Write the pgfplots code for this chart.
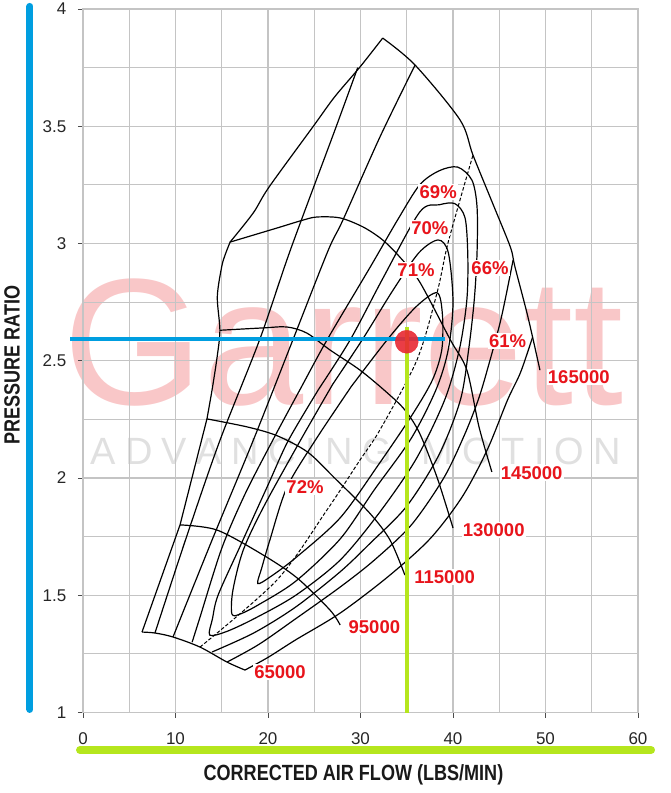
\documentclass[border=0pt]{standalone}
\usepackage{fontspec}
\setmainfont{Liberation Sans}
\newfontfamily\condfont[FakeStretch=0.82]{Liberation Sans}
\usepackage{pgfplots}
\pgfplotsset{compat=1.18}
\definecolor{gridgray}{RGB}{196,196,196}
\definecolor{barblue}{RGB}{0,158,224}
\definecolor{bargreen}{RGB}{181,230,29}
\definecolor{lblred}{RGB}{232,20,27}
\definecolor{wmpink}{RGB}{249,199,200}
\definecolor{wmgray}{RGB}{224,224,224}
\newcommand\ls{\hspace{9.5pt}}
\begin{document}
\begin{tikzpicture}
\path[use as bounding box] (-83pt,-80.5pt) rectangle (587pt,712.5pt);
\node[anchor=base west, inner sep=0, text=wmpink, font=\fontsize{180}{180}\selectfont] at (-19.6pt,307.5pt) {Garrett};
\node[anchor=base west, inner sep=0, text=wmgray, font=\fontsize{38}{38}\selectfont] at (7pt,247.5pt) {A\ls D\ls V\ls A\ls N\ls C\ls I\ls N\ls G\ls\ \ls M\ls O\ls T\ls I\ls O\ls N};
\begin{axis}[
  at={(0pt,0pt)}, anchor=south west,
  scale only axis, width=555pt, height=703.5pt,
  xmin=0, xmax=60, ymin=1, ymax=4,
  xtick={0,10,...,60}, ytick={1,1.5,...,4},
  minor xtick={5,15,...,55}, minor ytick={1.25,1.75,...,3.75},
  grid=both,
  grid style={gridgray, line width=1.1pt},
  minor grid style={gridgray, line width=1.1pt},
  axis line style={gridgray, line width=1.1pt},
  tick align=outside, major tick length=5pt, minor tick length=0pt,
  tick pos=left,
  major tick style={black!70, line width=0.8pt},
  /pgf/number format/assume math mode=true,
  ticklabel style={font=\fontsize{17}{17}\selectfont, text=black!85},
  xticklabel style={anchor=north, inner sep=0pt, yshift=-14.5pt},
  yticklabel style={anchor=east, inner sep=0pt, xshift=-11.5pt},
  clip=false,
  cl/.style={black, line width=1.2pt, smooth},
]
% decorative bars
\draw[barblue, line width=7pt, line cap=round] (axis cs:-5.73,1.013) -- (axis cs:-5.73,4.011);
\draw[bargreen, line width=8pt, line cap=round] (axis cs:-0.32,0.840) -- (axis cs:61.41,0.840);
% axis titles
\node[font=\condfont\bfseries\fontsize{22}{22}\selectfont, text=black!90] at (axis cs:29.24,0.7335) {CORRECTED AIR FLOW (LBS/MIN)};
\node[font=\condfont\bfseries\fontsize{22}{22}\selectfont, text=black!90, rotate=90] at (axis cs:-7.68,2.482) {PRESSURE RATIO};

% surge line
\addplot[black, line width=1.2pt] coordinates {(6.38,1.343) (10.49,1.80) (13.4,2.252)};
\addplot[cl] coordinates {(13.4,2.252) (13.95,2.375) (14.5,2.516) (14.8,2.63) (14.52,2.773) (14.99,2.90) (15.35,2.95) (15.9,3.006)};
% upper-left boundary
\addplot[cl] coordinates {(15.9,3.006) (18.4,3.13) (20.1,3.24) (24.9,3.5) (27.2,3.625) (29.95,3.753) (32.4,3.876)};
% speed lines
\addplot[cl] coordinates {(32.4,3.876) (35.9,3.761) (40.76,3.527) (42.16,3.377) (44.3,3.17) (46.2,2.985) (46.7,2.90) (48.1,2.687) (49.4,2.46)};
\addplot[cl] coordinates {(6.38,1.343) (7.78,1.339) (9.73,1.322) (12.65,1.279) (15.57,1.215) (17.51,1.181)};
\addplot[cl] coordinates {(10.49,1.80) (14.49,1.778) (19.46,1.672) (23.14,1.574) (26.7,1.437) (27.8,1.373)};
\addplot[cl] coordinates {(13.4,2.252) (17.73,2.218) (21.0,2.18) (24.3,2.11) (27.2,2.0) (31,1.85) (33.2,1.735) (34.8,1.586)};
\addplot[cl] coordinates {(14.8,2.63) (19.46,2.64) (22.05,2.644) (24.2,2.618) (26.7,2.546) (29.95,2.46) (32.9,2.363) (34.8,2.29) (36.4,2.19) (38.3,2.0) (40.0,1.787)};
\addplot[cl] coordinates {(15.9,3.006) (20.97,3.066) (23.8,3.1) (25.3,3.113) (27.8,3.109) (30.3,3.07) (32.4,3.015) (34.3,2.94) (36.4,2.836) (39.7,2.59) (41.5,2.46) (42.8,2.22) (44.2,2.026)};
% efficiency contours
\addplot[cl] coordinates {(7.78,1.339) (11.2,1.75) (14.8,2.16) (19.1,2.59) (22.4,2.97) (27.2,3.48) (29.7,3.75)};
\addplot[cl] coordinates {(48.6,2.60) (47.3,2.45) (45.9,2.333) (43.7,2.12) (41,1.92) (37.5,1.74) (33,1.58) (27.8,1.424) (23,1.31) (20,1.235) (17.51,1.181)};
\addplot[cl] coordinates {(9.73,1.322) (14,1.74) (18.4,2.16) (22.7,2.59) (26.5,2.97) (28.1,3.1) (32.1,3.454) (35.9,3.761)};
\addplot[cl] coordinates {(46.5,2.93) (45.2,2.68) (43.7,2.46) (42.7,2.33) (41.2,2.18) (39,2.0) (35.5,1.8) (31.5,1.65) (27.8,1.535) (23,1.4) (19,1.29) (15.57,1.215)};
\addplot[cl] coordinates {(11.8,1.30) (12.6,1.40) (15,1.70) (17.5,1.93) (20.5,2.16) (23.5,2.38) (26.4,2.59) (31.0,2.896) (34,3.1) (36.4,3.25) (38.5,3.31) (40.5,3.326) (42.05,3.27) (42.6,3.156) (42.6,2.96) (42.3,2.76) (41.7,2.55) (40.8,2.333) (38.5,2.1) (35,1.88) (31,1.72) (27.8,1.60) (23,1.45) (18.5,1.34) (13.95,1.258)};
% 70
\addplot[cl] coordinates {(25.5,2.38) (28.9,2.59) (32.4,2.85) (36.4,3.134) (38.5,3.165) (40.2,3.17) (41.3,3.11) (41.6,2.95) (41.5,2.76) (40.7,2.55) (39.1,2.333) (36,2.08) (32,1.85) (27.8,1.65) (23,1.5) (18.5,1.40) (15.5,1.345) (13.7,1.33) (14.0,1.40) (14.6,1.50) (17,1.71) (20,1.97) (22.2,2.16) (25.5,2.38)};
% 71
\addplot[cl] coordinates {(27,2.40) (30.2,2.59) (33.5,2.80) (36.3,2.96) (38.4,3.015) (39.5,2.96) (40,2.75) (39.5,2.55) (38.2,2.38) (35.5,2.17) (31.5,1.95) (27.8,1.74) (23,1.56) (19,1.46) (17,1.42) (16.1,1.42) (16.2,1.52) (17.3,1.69) (19.5,1.875) (23.5,2.16) (27,2.40)};
% 72
\addplot[cl] coordinates {(29,2.39) (32.9,2.59) (36,2.73) (38.27,2.79) (38.85,2.70) (38.8,2.55) (37.8,2.42) (35.6,2.27) (32,2.06) (27.8,1.83) (23,1.66) (20.3,1.58) (18.9,1.55) (19.35,1.62) (20.2,1.735) (22.05,1.96) (25.1,2.16) (29,2.39)};
% peak efficiency line
\addplot[black, line width=1pt, dash pattern=on 3.5pt off 2pt, smooth] coordinates {(12.65,1.279) (20.97,1.565) (26.38,1.864) (29.95,2.077) (32.1,2.205) (36.1,2.503) (38.27,2.789) (39.35,2.985) (40.76,3.186) (42.16,3.377)};

% labels
\tikzset{lbl/.style={text=lblred, font=\bfseries\fontsize{18.5}{18.5}\selectfont, inner sep=1.2pt, fill=white}}
\node[lbl] at (axis cs:38.4,3.22) {69\%};
\node[lbl] at (axis cs:37.5,3.066) {70\%};
\node[lbl] at (axis cs:36.0,2.887) {71\%};
\node[lbl] at (axis cs:44.0,2.896) {66\%};
\node[lbl] at (axis cs:45.9,2.584) {61\%};
\node[lbl] at (axis cs:24.0,1.962) {72\%};
\node[lbl] at (axis cs:53.6,2.43) {165000};
\node[lbl] at (axis cs:48.5,2.021) {145000};
\node[lbl] at (axis cs:44.4,1.778) {130000};
\node[lbl] at (axis cs:39.1,1.578) {115000};
\node[lbl] at (axis cs:31.5,1.365) {95000};
\node[lbl] at (axis cs:21.3,1.173) {65000};

% operating point
\addplot[barblue, line width=4pt] coordinates {(-1.4,2.593) (39.1,2.593)};
\addplot[bargreen, line width=4pt] coordinates {(35,1) (35,2.645)};
\addplot[only marks, mark=*, mark size=11.5pt, color={rgb,255:red,232;green,40;blue,50}, opacity=0.9] coordinates {(35,2.581)};
\end{axis}
\end{tikzpicture}
\end{document}
